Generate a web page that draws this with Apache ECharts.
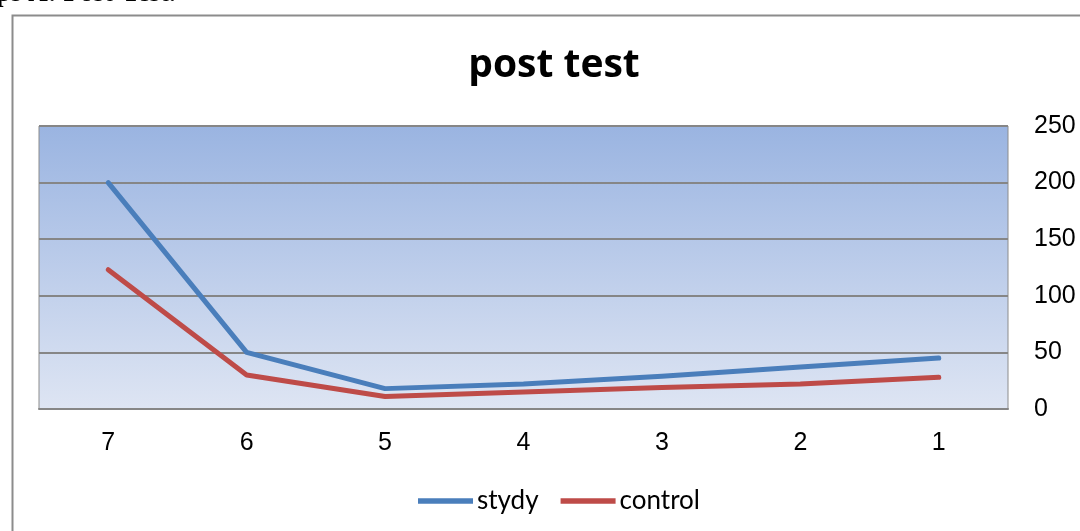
<!DOCTYPE html>
<html>
<head>
<meta charset="utf-8">
<script src="https://cdn.jsdelivr.net/npm/echarts@6/dist/echarts.min.js"></script>
<style>
html,body{margin:0;padding:0;background:#fff;}
#chart{width:1080px;height:531px;}
</style>
</head>
<body>
<div id="chart"></div>
<script>
const categories = ['7', '6', '5', '4', '3', '2', '1'];
const stydy = [200, 50, 18, 22, 29, 37, 45];
const control = [123, 30, 11, 15, 19, 22, 28];
const yTicks = {min: 0, max: 250, interval: 50};

const chart = echarts.init(document.getElementById('chart'));
chart.setOption({
  animation: false,
  backgroundColor: '#ffffff',
  title: {
    text: 'post test',
    left: 549,
    textAlign: 'center',
    top: 41,
    textStyle: {fontFamily: 'Open Sans', fontWeight: 'bold', fontSize: 39, color: '#000'}
  },
  graphic: [
    {type: 'rect', left: 10, top: 13, shape: {width: 1200, height: 700},
     style: {fill: 'none', stroke: '#8c8c8c', lineWidth: 2}, z: 0},
    {type: 'text', left: -4, top: -19,
     style: {text: 'ps A: Post-Test.', font: 'bold 27px "Liberation Serif"', fill: '#000'}}
  ],
  legend: {
    data: ['stydy', 'control'],
    left: 413,
    top: 483,
    itemWidth: 55,
    itemHeight: 14,
    itemGap: 22,
    icon: 'path://M0,0 L100,0 L100,10 L0,10 Z',
    textStyle: {fontFamily: 'Lato', fontSize: 26, color: '#000', padding: [0, 0, 0, -1]}
  },
  grid: {
    left: 39, right: 72, top: 126, bottom: 122,
    show: true,
    borderColor: '#8c8c8c', borderWidth: 1,
    backgroundColor: new echarts.graphic.LinearGradient(0, 0, 0, 1, [
      {offset: 0, color: '#9AB4E1'},
      {offset: 1, color: '#DEE5F3'}
    ])
  },
  xAxis: {
    type: 'category',
    data: categories,
    boundaryGap: true,
    axisLine: {show: true, lineStyle: {color: '#868686', width: 2}},
    axisTick: {show: false},
    axisLabel: {fontFamily: 'Liberation Sans', fontSize: 25, color: '#000', margin: 22}
  },
  yAxis: {
    type: 'value',
    position: 'right',
    min: yTicks.min, max: yTicks.max, interval: yTicks.interval,
    axisLine: {show: false},
    axisTick: {show: false},
    splitLine: {show: true, lineStyle: {color: '#868686', width: 2}},
    axisLabel: {fontFamily: 'Liberation Sans', fontSize: 25, color: '#000', margin: 26, align: 'left'}
  },
  series: [
    {name: 'stydy', type: 'line', data: stydy, symbol: 'none',
     itemStyle: {color: '#4A7EBB'},
     lineStyle: {color: '#4A7EBB', width: 5, cap: 'round', join: 'round'}},
    {name: 'control', type: 'line', data: control, symbol: 'none',
     itemStyle: {color: '#BE4B48'},
     lineStyle: {color: '#BE4B48', width: 5, cap: 'round', join: 'round'}}
  ]
});
</script>
</body>
</html>
